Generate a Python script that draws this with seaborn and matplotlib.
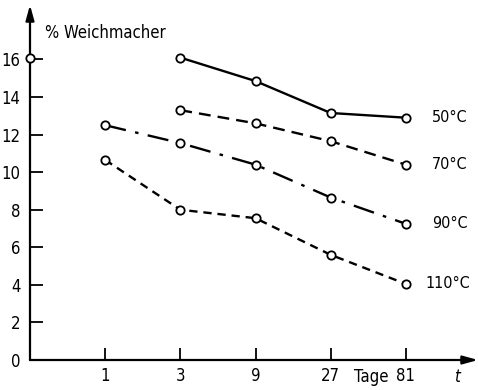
import matplotlib
matplotlib.use("Agg")
import matplotlib.pyplot as plt
import seaborn as sns
import pandas as pd
import numpy as np

sns.set_style("white")
plt.rcParams['font.family'] = ['DejaVu Sans']
plt.rcParams['font.stretch'] = 'condensed'
plt.rcParams['text.color'] = 'k'
plt.rcParams['xtick.color'] = 'k'
plt.rcParams['ytick.color'] = 'k'

days_a = [3, 9, 27, 81]
days_b = [1, 3, 9, 27, 81]
w50 = [16.1, 14.85, 13.15, 12.9]
w70 = [13.3, 12.6, 11.65, 10.4]
w90 = [12.5, 11.55, 10.4, 8.65, 7.25]
w110 = [10.65, 8.0, 7.55, 5.6, 4.05]
start_day = [1/3]
start_val = [16.1]
series_labels = ["50°C", "70°C", "90°C", "110°C"]
x_ticks = [1, 3, 9, 27, 81]
y_ticks = [0, 2, 4, 6, 8, 10, 12, 14, 16]

fig = plt.figure(figsize=(4.78, 3.90), dpi=100)
ax = fig.add_axes([30/478, 30/390, 448/478, 355/390])
ax.set_xscale('log', base=3)
ax.set_xlim(1/3, 3**4.96)
ax.set_ylim(0, 18.9)

mk = dict(marker='o', markersize=6, markerfacecolor='white', markeredgecolor='k',
          markeredgewidth=1.3, color='k', linewidth=1.7)
sns.lineplot(x=days_a, y=w50, ax=ax, linestyle='-', **mk)
sns.lineplot(x=days_a, y=w70, ax=ax, linestyle=(0, (5, 3)), **mk)
sns.lineplot(x=days_b, y=w90, ax=ax, linestyle=(0, (9, 4, 1.5, 4)), **mk)
sns.lineplot(x=days_b, y=w110, ax=ax, linestyle=(0, (3.5, 2.5)), **mk)
ax.plot(start_day, start_val, linestyle='none', clip_on=False, zorder=5,
        **{k: v for k, v in mk.items() if k != 'linewidth'})

for lab, arr in zip(series_labels, [w50, w70, w90, w110]):
    ax.annotate(lab, xy=(81, arr[-1]), xytext=(19 if lab != "110°C" else 14, 0),
                textcoords='offset points', va='center', ha='left', fontsize=11.5)

for s in ax.spines.values():
    s.set_visible(False)
ax.annotate('', xy=(0, 1.0), xytext=(0, 0), xycoords='axes fraction',
            arrowprops=dict(arrowstyle='-|>,head_length=0.9,head_width=0.25', color='k', lw=1.6,
                            shrinkA=0, shrinkB=0))
ax.annotate('', xy=(1.0, 0), xytext=(0, 0), xycoords='axes fraction',
            arrowprops=dict(arrowstyle='-|>,head_length=0.9,head_width=0.25', color='k', lw=1.6,
                            shrinkA=0, shrinkB=0))

ax.set_xticks(x_ticks)
ax.set_xticklabels([str(t) for t in x_ticks])
ax.xaxis.set_minor_locator(matplotlib.ticker.NullLocator())
ax.set_yticks(y_ticks)
ax.set_yticklabels([str(t) for t in y_ticks])
ax.tick_params(axis='both', direction='in', length=9, width=1.3, color='k',
               labelsize=12, left=True, bottom=True, pad=5)
ax.tick_params(axis='y', pad=7)
ax.set_xlabel('')
ax.set_ylabel('')

fig.text(45/478, 1 - 33/390, '% Weichmacher', fontsize=12, va='center', ha='left')
fig.text(371/478, 1 - 377/390, 'Tage', fontsize=12, va='center', ha='center')
fig.text(457/478, 1 - 377/390, 't', fontsize=12, va='center', ha='center', style='italic')

fig.savefig('out.png', dpi=100)
